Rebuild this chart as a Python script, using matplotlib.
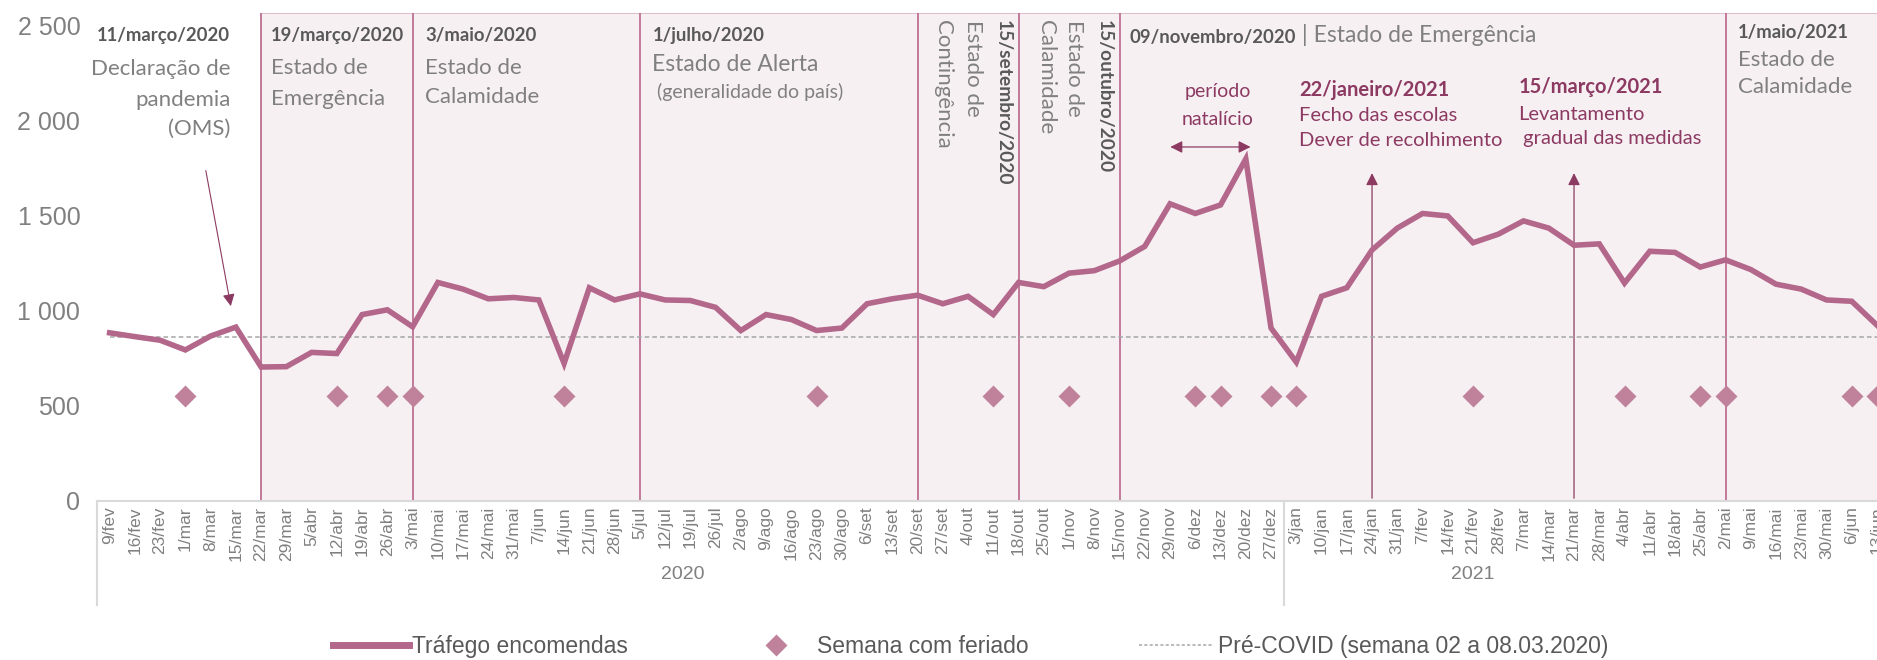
import matplotlib
matplotlib.use('Agg')
import matplotlib.pyplot as plt
from matplotlib.lines import Line2D
from matplotlib.patches import Rectangle
import matplotlib.transforms as mtransforms

# Data
weeks_2020 = ['9/fev', '16/fev', '23/fev', '1/mar', '8/mar', '15/mar', '22/mar', '29/mar',
              '5/abr', '12/abr', '19/abr', '26/abr', '3/mai', '10/mai', '17/mai', '24/mai',
              '31/mai', '7/jun', '14/jun', '21/jun', '28/jun', '5/jul', '12/jul', '19/jul',
              '26/jul', '2/ago', '9/ago', '16/ago', '23/ago', '30/ago', '6/set', '13/set',
              '20/set', '27/set', '4/out', '11/out', '18/out', '25/out', '1/nov', '8/nov',
              '15/nov', '22/nov', '29/nov', '6/dez', '13/dez', '20/dez', '27/dez']
weeks_2021 = ['3/jan', '10/jan', '17/jan', '24/jan', '31/jan', '7/fev', '14/fev', '21/fev',
              '28/fev', '7/mar', '14/mar', '21/mar', '28/mar', '4/abr', '11/abr', '18/abr',
              '25/abr', '2/mai', '9/mai', '16/mai', '23/mai', '30/mai', '6/jun', '13/jun']
weeks = weeks_2020 + weeks_2021

traffic = [885, 865, 846, 795, 868, 915, 705, 707, 782, 776, 981, 1006, 917, 1150, 1115, 1064,
           1071, 1058, 724, 1122, 1058, 1090, 1058, 1055, 1019, 897, 981, 955, 897, 910,
           1038, 1064, 1083, 1038, 1077, 981, 1150, 1128, 1199, 1212, 1263, 1340, 1564, 1513,
           1558, 1800, 910, 731, 1077, 1122, 1321, 1436, 1513, 1500, 1359, 1404, 1474, 1436,
           1346, 1353, 1147, 1314, 1308, 1231, 1269, 1218, 1141, 1115, 1058, 1051, 925]

holiday_weeks = ['1/mar', '12/abr', '26/abr', '3/mai', '14/jun', '23/ago', '11/out', '1/nov',
                 '6/dez', '13/dez', '27/dez', '3/jan', '21/fev', '4/abr', '25/abr', '2/mai',
                 '6/jun', '13/jun']
holiday_level = 550
pre_covid = 862

event_weeks = ['22/mar', '3/mai', '5/jul', '20/set', '18/out', '15/nov', '2/mai']
arrow_weeks = ['24/jan', '21/mar']
arrow_top = 1740

y_ticks = [0, 500, 1000, 1500, 2000, 2500]
y_tick_labels = ['0', '500', '1 000', '1 500', '2 000', '2 500']
years = ['2020', '2021']

# Colours
LINE = '#b3678a'
DIAMOND = '#c0829b'
VLINE = '#c27a9a'
SHADE = '#f7f0f3'
DARK = '#595959'
GREY = '#808080'
MAUVE = '#8c3a62'
AXIS = '#d9d9d9'

ANN_FONT = 'Lato'
TICK_FONT = 'Liberation Sans'
BOLD_FS = 13.3

fig = plt.figure(figsize=(18.77, 6.6), dpi=100)
ax = fig.add_axes([97 / 1877, 1 - 501 / 660, 1 - 97 / 1877, 488 / 660])

x = list(range(len(weeks)))
pos = {w: i for i, w in enumerate(weeks)}

ax.set_xlim(-0.5, 69.8)
ax.set_ylim(0, 2568)

# shaded period (state of emergency onwards)
start = pos[event_weeks[0]]
ax.add_patch(Rectangle((start, 0), len(weeks) + 2 - start, 2568, facecolor=SHADE,
                       edgecolor='#d9b3c4', lw=1.2, zorder=0))
for w in event_weeks:
    ax.axvline(pos[w], color=VLINE, lw=1.4, zorder=1)

for w in arrow_weeks:
    ax.annotate('', xy=(pos[w], arrow_top), xytext=(pos[w], 0),
                arrowprops=dict(arrowstyle='-|>', color=MAUVE, lw=0.9, mutation_scale=18),
                zorder=2)

# pre-covid reference
ax.plot([0, len(weeks)], [pre_covid, pre_covid], ls=(0, (3, 2)), color='#a6a6a6', lw=1.1, zorder=2)

# series
ax.plot(x, traffic, color=LINE, lw=4, solid_joinstyle='miter', zorder=4)
hx = [pos[w] for w in holiday_weeks]
ax.plot(hx, [holiday_level] * len(hx), ls='none', marker='D', ms=11.5, color=DIAMOND,
        mec='none', zorder=3)

# axes styling
for s in ['left', 'right', 'top']:
    ax.spines[s].set_visible(False)
ax.spines['bottom'].set_color(AXIS)
ax.spines['bottom'].set_linewidth(1.5)

ax.set_yticks(y_ticks)
ax.set_yticklabels(y_tick_labels, fontsize=18, color=GREY, family=TICK_FONT)
ax.tick_params(axis='y', length=0, pad=12)
ax.set_xticks(x)
ax.set_xticklabels(weeks, rotation=90, fontsize=12.5, color=GREY, family=TICK_FONT)
ax.tick_params(axis='x', length=0, pad=4)

# year level of the category axis
trans = mtransforms.blended_transform_factory(ax.transData, ax.transAxes)
sep_bottom = -(605 - 501) / 488
for xs in [-0.5, len(weeks_2020) - 0.5]:
    ax.plot([xs, xs], [0, sep_bottom], color=AXIS, lw=1.5, transform=trans, clip_on=False)
ax.text(22.7, -0.15, years[0], transform=trans, ha='center', va='center', fontsize=14,
        color=GREY, family=TICK_FONT)
ax.text(54.0, -0.15, years[1], transform=trans, ha='center', va='center', fontsize=14,
        color=GREY, family=TICK_FONT)


def block(xp, ys, lines, ha='left', fs=16, bfs=BOLD_FS):
    for yv, (s, bold, col) in zip(ys, lines):
        ax.text(xp, yv, s, ha=ha, va='center', fontsize=bfs if bold else fs, family=ANN_FONT,
                fontweight='bold' if bold else 'normal', color=col, zorder=5)


block(4.78, [2447, 2274, 2111, 1958],
      [('11/março/2020', True, DARK), ('Declaração de', False, GREY),
       ('pandemia', False, GREY), ('(OMS)', False, GREY)], ha='right')
block(6.4, [2447, 2280, 2115],
      [('19/março/2020', True, DARK), ('Estado de', False, GREY), ('Emergência', False, GREY)])
block(12.5, [2447, 2280, 2125],
      [('3/maio/2020', True, DARK), ('Estado de', False, GREY), ('Calamidade', False, GREY)])
block(21.5, [2447, 2295], [('1/julho/2020', True, DARK), ('Estado de Alerta', False, GREY)],
      fs=16.5)
ax.text(21.5, 2150, ' (generalidade do país)', ha='left', va='center', fontsize=14,
        family=ANN_FONT, color=GREY)

# vertical labels
for xp, s, bold in [(33.0, 'Contingência', False), (34.2, 'Estado de', False),
                    (35.4, '15/setembro/2020', True), (37.1, 'Calamidade', False),
                    (38.2, 'Estado de', False), (39.4, '15/outubro/2020', True)]:
    ax.text(xp, 2530, s, rotation=-90, ha='center', va='top',
            fontsize=BOLD_FS + 0.5 if bold else 16, family=ANN_FONT,
            fontweight='bold' if bold else 'normal', color=DARK if bold else GREY, zorder=5)

t = ax.text(40.4, 2437, '09/novembro/2020', ha='left', va='center', fontsize=BOLD_FS,
            family=ANN_FONT, fontweight='bold', color=DARK, zorder=5)
ax.annotate(' | Estado de Emergência', xy=(1, 0), xycoords=t, ha='left', va='bottom',
            fontsize=16.5, family=ANN_FONT, color=GREY, zorder=5)

block(43.9, [2153, 2005], [('período', False, MAUVE), ('natalício', False, MAUVE)],
      ha='center', fs=14)
ax.annotate('', xy=(41.9, 1863), xytext=(45.3, 1863),
            arrowprops=dict(arrowstyle='<|-|>', color=MAUVE, lw=0.9, mutation_scale=18))

block(47.1, [2163, 2030, 1895],
      [('22/janeiro/2021', True, MAUVE), ('Fecho das escolas', False, MAUVE),
       ('Dever de recolhimento', False, MAUVE)], fs=14.5, bfs=14.5)
block(55.8, [2179, 2035, 1905],
      [('15/março/2021', True, MAUVE), ('Levantamento', False, MAUVE),
       (' gradual das medidas', False, MAUVE)], fs=14.5, bfs=14.5)
block(64.5, [2468, 2321, 2179],
      [('1/maio/2021', True, DARK), ('Estado de', False, GREY), ('Calamidade', False, GREY)])

# pandemic declaration arrow
ax.annotate('', xy=(4.82, 1011), xytext=(3.79, 1753),
            arrowprops=dict(arrowstyle='-|>', color=MAUVE, lw=0.8, mutation_scale=18))

# legend
handles = [Line2D([], [], color=LINE, lw=5),
           Line2D([], [], ls='none', marker='D', ms=11, color=DIAMOND, mec='none'),
           Line2D([], [], ls=(0, (2, 1.5)), color='#a6a6a6', lw=1.1)]
labels = ['Tráfego encomendas', 'Semana com feriado', 'Pré-COVID (semana 02 a 08.03.2020)']
fig.legend(handles, labels, loc='center', bbox_to_anchor=(0.517, 0.021), ncol=3,
           frameon=False, handlelength=3.3, columnspacing=4.8, handletextpad=0.15,
           prop={'family': TICK_FONT, 'size': 16.5}, labelcolor=DARK)

fig.savefig('out.png', dpi=100)
